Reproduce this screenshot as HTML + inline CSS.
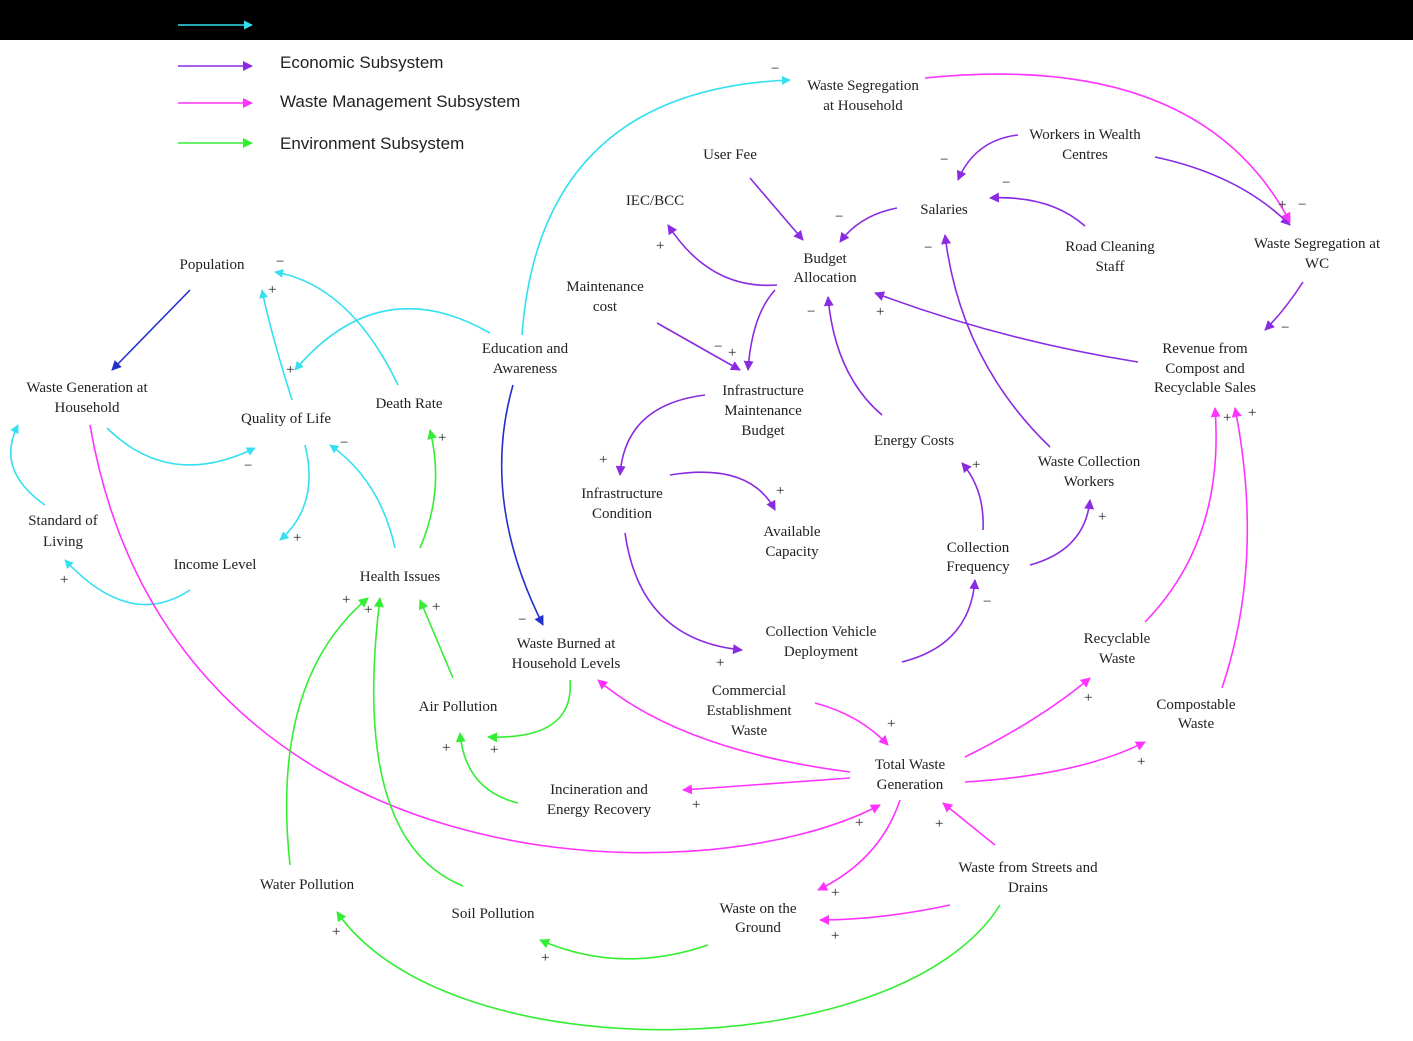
<!DOCTYPE html>
<html><head><meta charset="utf-8"><style>
html,body{margin:0;padding:0;background:#fff;}
svg{display:block}
text{font-family:"Liberation Serif",serif;font-size:15px;fill:#222;}
.lg{font-family:"Liberation Sans",sans-serif;font-size:17px;fill:#222;}
.s{font-size:14px;}
</style></head><body>
<svg width="1413" height="1041" viewBox="0 0 1413 1041" xmlns="http://www.w3.org/2000/svg">
<defs>
<marker id="mc" viewBox="0 0 10 10" refX="9" refY="5" markerWidth="9" markerHeight="9" orient="auto-start-reverse" markerUnits="userSpaceOnUse"><path d="M0,0L10,5L0,10z" fill="#33e0f0"/></marker>
<marker id="mp" viewBox="0 0 10 10" refX="9" refY="5" markerWidth="10" markerHeight="10" orient="auto" markerUnits="userSpaceOnUse"><path d="M0,0L10,5L0,10z" fill="#8a2be2"/></marker>
<marker id="mm" viewBox="0 0 10 10" refX="9" refY="5" markerWidth="10" markerHeight="10" orient="auto" markerUnits="userSpaceOnUse"><path d="M0,0L10,5L0,10z" fill="#ff33ff"/></marker>
<marker id="mg" viewBox="0 0 10 10" refX="9" refY="5" markerWidth="10" markerHeight="10" orient="auto" markerUnits="userSpaceOnUse"><path d="M0,0L10,5L0,10z" fill="#33ee33"/></marker>
<marker id="mb" viewBox="0 0 10 10" refX="9" refY="5" markerWidth="10" markerHeight="10" orient="auto" markerUnits="userSpaceOnUse"><path d="M0,0L10,5L0,10z" fill="#2233cc"/></marker>
</defs>
<rect x="0" y="0" width="1413" height="40" fill="#000"/>
<g fill="none" stroke-width="1.6">
<line x1="178" y1="25" x2="252" y2="25" stroke="#33e0f0" marker-end="url(#mc)"/>
<line x1="178" y1="66" x2="252" y2="66" stroke="#8a2be2" marker-end="url(#mp)"/>
<line x1="178" y1="103" x2="252" y2="103" stroke="#ff33ff" marker-end="url(#mm)"/>
<line x1="178" y1="143" x2="252" y2="143" stroke="#33ee33" marker-end="url(#mg)"/>
</g>
<text class="lg" x="280" y="68">Economic Subsystem</text>
<text class="lg" x="280" y="107">Waste Management Subsystem</text>
<text class="lg" x="280" y="149">Environment Subsystem</text>

<g fill="none" stroke="#33e0f0" stroke-width="1.6" marker-end="url(#mc)">
<path d="M522,335 Q540,90 790,80"/>
<path d="M490,333 Q380,270 295,370"/>
<path d="M292,400 Q270,330 262,290"/>
<path d="M398,385 Q350,285 275,272"/>
<path d="M107,428 Q170,490 255,448"/>
<path d="M305,445 Q320,505 280,540"/>
<path d="M395,548 Q380,480 330,445"/>
<path d="M190,590 Q130,630 65,560"/>
<path d="M45,505 Q-5,470 18,425"/>
</g>
<g fill="none" stroke="#2233cc" stroke-width="1.6" marker-end="url(#mb)">
<path d="M190,290 L112,370"/>
<path d="M513,385 Q480,500 543,625"/>
</g>
<g fill="none" stroke="#8a2be2" stroke-width="1.6" marker-end="url(#mp)">
<path d="M750,178 L803,240"/>
<path d="M897,208 Q860,215 840,242"/>
<path d="M777,285 Q710,290 668,225"/>
<path d="M775,290 Q752,315 748,370"/>
<path d="M657,323 L740,370"/>
<path d="M882,415 Q835,375 828,297"/>
<path d="M1138,362 Q1000,340 875,293"/>
<path d="M1018,135 Q975,140 958,180"/>
<path d="M1085,226 Q1050,195 990,198"/>
<path d="M1050,447 Q960,360 945,235"/>
<path d="M1155,157 Q1240,175 1290,225"/>
<path d="M1303,282 Q1285,310 1265,330"/>
<path d="M705,395 Q625,405 620,475"/>
<path d="M670,475 Q750,462 775,510"/>
<path d="M625,533 Q640,640 742,650"/>
<path d="M902,662 Q970,645 975,580"/>
<path d="M983,530 Q985,490 962,463"/>
<path d="M1030,565 Q1085,550 1090,500"/>
</g>
<g fill="none" stroke="#ff33ff" stroke-width="1.6" marker-end="url(#mm)">
<path d="M925,78 Q1200,50 1290,222"/>
<path d="M90,425 C170,890 700,900 880,805"/>
<path d="M850,772 Q680,750 598,680"/>
<path d="M815,703 Q860,715 888,745"/>
<path d="M850,778 L683,790"/>
<path d="M965,757 Q1040,720 1090,678"/>
<path d="M965,782 Q1080,775 1145,742"/>
<path d="M1145,622 Q1225,540 1215,408"/>
<path d="M1222,688 Q1265,560 1235,408"/>
<path d="M900,800 Q880,860 818,890"/>
<path d="M995,845 Q970,825 943,803"/>
<path d="M950,905 Q880,920 820,920"/>
</g>
<g fill="none" stroke="#33ee33" stroke-width="1.6" marker-end="url(#mg)">
<path d="M420,548 Q445,490 430,430"/>
<path d="M453,678 L420,600"/>
<path d="M290,865 Q270,680 368,598"/>
<path d="M463,886 Q350,840 380,598"/>
<path d="M570,680 Q575,740 488,737"/>
<path d="M518,803 Q465,790 460,733"/>
<path d="M708,945 Q620,975 540,940"/>
<path d="M1000,905 C900,1065 450,1075 337,912"/>
</g>

<g class="s">
<text x="771" y="73" fill="#33e0f0">−</text>
<text x="276" y="266" fill="#33e0f0">−</text>
<text x="268" y="294" fill="#33e0f0">+</text>
<text x="286" y="374" fill="#33e0f0">+</text>
<text x="244" y="470" fill="#33e0f0">−</text>
<text x="340" y="447" fill="#33e0f0">−</text>
<text x="293" y="542" fill="#33e0f0">+</text>
<text x="60" y="584" fill="#33e0f0">+</text>
<text x="518" y="624" fill="#2233cc">−</text>
<text x="656" y="250" fill="#8a2be2">+</text>
<text x="835" y="221" fill="#8a2be2">−</text>
<text x="714" y="351" fill="#8a2be2">−</text>
<text x="728" y="357" fill="#8a2be2">+</text>
<text x="807" y="316" fill="#8a2be2">−</text>
<text x="876" y="316" fill="#8a2be2">+</text>
<text x="940" y="164" fill="#8a2be2">−</text>
<text x="1002" y="187" fill="#8a2be2">−</text>
<text x="924" y="252" fill="#8a2be2">−</text>
<text x="1281" y="332" fill="#8a2be2">−</text>
<text x="599" y="464" fill="#8a2be2">+</text>
<text x="776" y="495" fill="#8a2be2">+</text>
<text x="716" y="667" fill="#8a2be2">+</text>
<text x="983" y="606" fill="#8a2be2">−</text>
<text x="972" y="469" fill="#8a2be2">+</text>
<text x="1098" y="521" fill="#8a2be2">+</text>
<text x="1278" y="209" fill="#ff33ff">+</text>
<text x="1298" y="209" fill="#ff33ff">−</text>
<text x="887" y="728" fill="#ff33ff">+</text>
<text x="692" y="809" fill="#ff33ff">+</text>
<text x="1084" y="702" fill="#ff33ff">+</text>
<text x="1137" y="766" fill="#ff33ff">+</text>
<text x="1223" y="422" fill="#ff33ff">+</text>
<text x="1248" y="417" fill="#ff33ff">+</text>
<text x="855" y="827" fill="#ff33ff">+</text>
<text x="831" y="897" fill="#ff33ff">+</text>
<text x="935" y="828" fill="#ff33ff">+</text>
<text x="831" y="940" fill="#ff33ff">+</text>
<text x="438" y="442" fill="#33ee33">+</text>
<text x="432" y="611" fill="#33ee33">+</text>
<text x="342" y="604" fill="#33ee33">+</text>
<text x="364" y="614" fill="#33ee33">+</text>
<text x="490" y="754" fill="#33ee33">+</text>
<text x="442" y="752" fill="#33ee33">+</text>
<text x="541" y="962" fill="#33ee33">+</text>
<text x="332" y="936" fill="#33ee33">+</text>
</g>

<g text-anchor="middle">
<text x="863" y="90">Waste Segregation</text><text x="863" y="110">at Household</text>
<text x="730" y="159">User Fee</text>
<text x="1085" y="139">Workers in Wealth</text><text x="1085" y="159">Centres</text>
<text x="655" y="205">IEC/BCC</text>
<text x="944" y="214">Salaries</text>
<text x="825" y="263">Budget</text><text x="825" y="282">Allocation</text>
<text x="1110" y="251">Road Cleaning</text><text x="1110" y="271">Staff</text>
<text x="1317" y="248">Waste Segregation at</text><text x="1317" y="268">WC</text>
<text x="212" y="269">Population</text>
<text x="605" y="291">Maintenance</text><text x="605" y="311">cost</text>
<text x="525" y="353">Education and</text><text x="525" y="373">Awareness</text>
<text x="1205" y="353">Revenue from</text><text x="1205" y="373">Compost and</text><text x="1205" y="392">Recyclable Sales</text>
<text x="87" y="392">Waste Generation at</text><text x="87" y="412">Household</text>
<text x="763" y="395">Infrastructure</text><text x="763" y="415">Maintenance</text><text x="763" y="435">Budget</text>
<text x="409" y="408">Death Rate</text>
<text x="286" y="423">Quality of Life</text>
<text x="914" y="445">Energy Costs</text>
<text x="1089" y="466">Waste Collection</text><text x="1089" y="486">Workers</text>
<text x="622" y="498">Infrastructure</text><text x="622" y="518">Condition</text>
<text x="63" y="525">Standard of</text><text x="63" y="546">Living</text>
<text x="792" y="536">Available</text><text x="792" y="556">Capacity</text>
<text x="978" y="552">Collection</text><text x="978" y="571">Frequency</text>
<text x="215" y="569">Income Level</text>
<text x="400" y="581">Health Issues</text>
<text x="821" y="636">Collection Vehicle</text><text x="821" y="656">Deployment</text>
<text x="566" y="648">Waste Burned at</text><text x="566" y="668">Household Levels</text>
<text x="1117" y="643">Recyclable</text><text x="1117" y="663">Waste</text>
<text x="749" y="695">Commercial</text><text x="749" y="715">Establishment</text><text x="749" y="735">Waste</text>
<text x="1196" y="709">Compostable</text><text x="1196" y="728">Waste</text>
<text x="458" y="711">Air Pollution</text>
<text x="910" y="769">Total Waste</text><text x="910" y="789">Generation</text>
<text x="599" y="794">Incineration and</text><text x="599" y="814">Energy Recovery</text>
<text x="1028" y="872">Waste from Streets and</text><text x="1028" y="892">Drains</text>
<text x="307" y="889">Water Pollution</text>
<text x="493" y="918">Soil Pollution</text>
<text x="758" y="913">Waste on the</text><text x="758" y="932">Ground</text>
</g>
</svg>
</body></html>
